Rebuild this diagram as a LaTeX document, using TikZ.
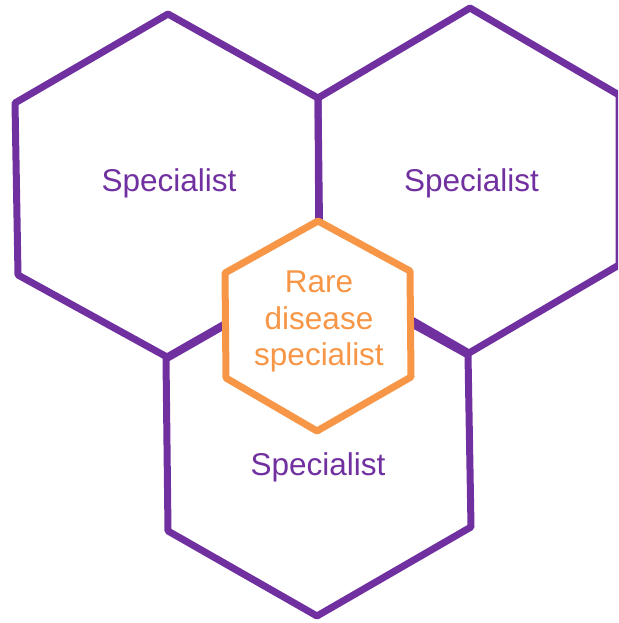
\documentclass[tikz,border=0pt]{standalone}
\usepackage{fontspec}
\setmainfont{Liberation Sans}
\definecolor{specpurple}{HTML}{7030A0}
\definecolor{rareorange}{HTML}{F79646}

\begin{document}
\begin{tikzpicture}[x=1pt,y=-1pt,
        hexline/.style={draw=specpurple, line width=7pt, line join=round},
        rarehex/.style={draw=rareorange, fill=white, line width=7pt, line join=round},
        hextext/.style={anchor=base, font=\fontsize{31.5}{36.7}\selectfont}]
        \useasboundingbox (0,0) rectangle (618,623);
        \clip (0,0) rectangle (618,623);
        % the three specialist cells
        \draw[hexline] (168,14) -- (318,98) -- (319,270) -- (167,357) -- (18,275) -- (15,103) -- cycle;
        \draw[hexline] (470,8) -- (619,95) -- (619,265) -- (469,353) -- (320,267) -- (318,98) -- cycle;
        \draw[hexline] (318,272) -- (468,355) -- (471,527) -- (317,616) -- (168,531) -- (166,359) -- cycle;
        % centre cell on top
        \draw[rarehex] (318,221) -- (410,271) -- (411,377) -- (317,431) -- (226,378) -- (225,273) -- cycle;
        \node[hextext, text=specpurple] (left) at (169,191.5) {Specialist};
        \node[hextext, text=specpurple] (right) at (471.5,191.5) {Specialist};
        \node[hextext, text=specpurple] (bottom) at (318,475) {Specialist};
        \node[hextext, text=rareorange, anchor=center, align=center] (rare) at (319,321.5) {Rare\\disease\\specialist};
    \end{tikzpicture}
\end{document}
